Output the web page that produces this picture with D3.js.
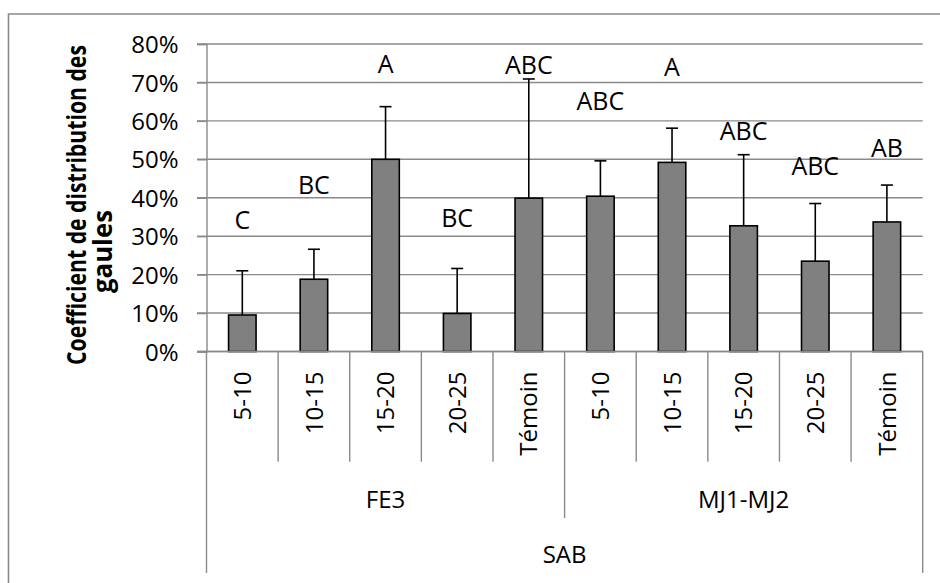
<!DOCTYPE html>
<html>
<head>
<meta charset="utf-8">
<script src="https://cdn.jsdelivr.net/npm/d3@7"></script>
<style>
  html, body { margin: 0; padding: 0; background: #fff; }
  svg { display: block; }
  text { font-family: "Open Sans", "Noto Sans", sans-serif; fill: #000; }
</style>
</head>
<body>
<svg id="chart" width="940" height="583"></svg>
<script>
// ---- data ----
const categories = ["5-10", "10-15", "15-20", "20-25", "Témoin", "5-10", "10-15", "15-20", "20-25", "Témoin"];
const groups = ["FE3", "MJ1-MJ2"];
const groupOf = [0, 0, 0, 0, 0, 1, 1, 1, 1, 1];
const superGroup = "SAB";
const values = [0.095, 0.188, 0.500, 0.099, 0.399, 0.404, 0.492, 0.327, 0.235, 0.337];
const errorTop = [0.210, 0.266, 0.637, 0.216, 0.709, 0.496, 0.581, 0.512, 0.385, 0.433];
const letters = ["C", "BC", "A", "BC", "ABC", "ABC", "A", "ABC", "ABC", "AB"];
const letterPos = [0.318, 0.411, 0.724, 0.324, 0.721, 0.628, 0.717, 0.550, 0.459, 0.505];
const yTicks = [0, 0.1, 0.2, 0.3, 0.4, 0.5, 0.6, 0.7, 0.8];
const yTitle = ["Coefficient de distribution des", "gaules"];

// ---- layout ----
const svg = d3.select("#chart");
const X0 = 206.5, X1 = 922.7, Y0 = 351.5, Y1 = 44;
const gridCol = "#8a8a8a";

const x = d3.scaleBand().domain(d3.range(categories.length)).range([X0, X1]).padding(0);
const y = d3.scaleLinear().domain([0, 0.8]).range([Y0, Y1]);
const bw = x.bandwidth();
const barW = 29;

// outer frame (left and top edges visible)
svg.append("path")
  .attr("d", "M8.5,583 L8.5,14 L940,14")
  .attr("fill", "none").attr("stroke", "#8a8a8a").attr("stroke-width", 1.6);

// gridlines
svg.append("g").selectAll("line").data(yTicks).join("line")
  .attr("x1", X0 - 9.5).attr("x2", X1)
  .attr("y1", d => y(d)).attr("y2", d => y(d))
  .attr("stroke", gridCol).attr("stroke-width", 1.4);

// y axis labels via d3 axis
const yAxis = d3.axisLeft(y).tickValues(yTicks).tickFormat(d3.format(".0%"))
  .tickSize(9.5).tickPadding(18.5);
const gy = svg.append("g").attr("transform", `translate(${X0},0)`).call(yAxis);
gy.select(".domain").attr("stroke", gridCol).attr("stroke-width", 1.4);
gy.selectAll(".tick line").attr("stroke", gridCol).attr("stroke-width", 1.4);
gy.selectAll(".tick text")
  .style("font-family", '"Open Sans", sans-serif').style("font-size", "24px")
  .attr("fill", "#000").attr("dy", "0.36em");

// category divider lines
const bounds = d3.range(categories.length + 1);
svg.append("g").selectAll("line").data(bounds).join("line")
  .attr("x1", i => X0 + i * bw).attr("x2", i => X0 + i * bw)
  .attr("y1", Y0)
  .attr("y2", i => (i === 0 || i === categories.length) ? 573 : (i === 5 ? 518 : 461.7))
  .attr("stroke", gridCol).attr("stroke-width", 1.4);

// bars
svg.append("g").selectAll("rect").data(values).join("rect")
  .attr("x", (d, i) => x(i) + bw / 2 - barW / 2 + 0.75)
  .attr("width", barW - 1.5)
  .attr("y", d => y(d))
  .attr("height", d => Y0 - y(d))
  .attr("fill", "#808080").attr("stroke", "#000").attr("stroke-width", 1.6);

// error bars
const eg = svg.append("g").attr("stroke", "#000").attr("stroke-width", 1.6);
eg.selectAll("line.v").data(values).join("line").attr("class", "v")
  .attr("x1", (d, i) => x(i) + bw / 2).attr("x2", (d, i) => x(i) + bw / 2)
  .attr("y1", d => y(d)).attr("y2", (d, i) => y(errorTop[i]));
eg.selectAll("line.c").data(errorTop).join("line").attr("class", "c")
  .attr("x1", (d, i) => x(i) + bw / 2 - 6).attr("x2", (d, i) => x(i) + bw / 2 + 6)
  .attr("y1", d => y(d)).attr("y2", d => y(d));

// x axis line (redraw on top)
svg.append("line").attr("x1", X0 - 9.5).attr("x2", X1).attr("y1", Y0).attr("y2", Y0)
  .attr("stroke", gridCol).attr("stroke-width", 1.4);

// significance letters
svg.append("g").selectAll("text").data(letters).join("text")
  .attr("x", (d, i) => x(i) + bw / 2)
  .attr("y", (d, i) => y(letterPos[i]))
  .attr("text-anchor", "middle")
  .style("font-size", "25px")
  .text(d => d);

// category labels (rotated)
svg.append("g").selectAll("text").data(categories).join("text")
  .attr("transform", (d, i) => `translate(${x(i) + bw / 2},371.5) rotate(-90)`)
  .attr("text-anchor", "end").attr("dy", "0.36em")
  .style("font-size", "24px")
  .text(d => d);

// group labels
groups.forEach((g, gi) => {
  const idx = d3.range(categories.length).filter(i => groupOf[i] === gi);
  const cx = (x(idx[0]) + x(idx[idx.length - 1]) + bw) / 2;
  svg.append("text").attr("x", cx).attr("y", 508)
    .attr("text-anchor", "middle").style("font-size", "24px").text(g);
});
svg.append("text").attr("x", (X0 + X1) / 2).attr("y", 563)
  .attr("text-anchor", "middle").style("font-size", "24px").text(superGroup);

// y axis title (two lines, condensed horizontally to match the narrow original face)
const titleSpec = [
  { text: yTitle[0], tx: 86, ty: 205, len: 320 },
  { text: yTitle[1], tx: 112, ty: 251.5, len: 83 }
];
titleSpec.forEach(s => {
  const t = svg.append("text")
    .attr("text-anchor", "middle")
    .style("font-size", "26px").style("font-weight", "bold")
    .text(s.text);
  const natural = t.node().getComputedTextLength();
  const k = s.len / natural;
  t.attr("transform", `translate(${s.tx},${s.ty}) rotate(-90) scale(${k},1)`);
});
</script>
</body>
</html>
